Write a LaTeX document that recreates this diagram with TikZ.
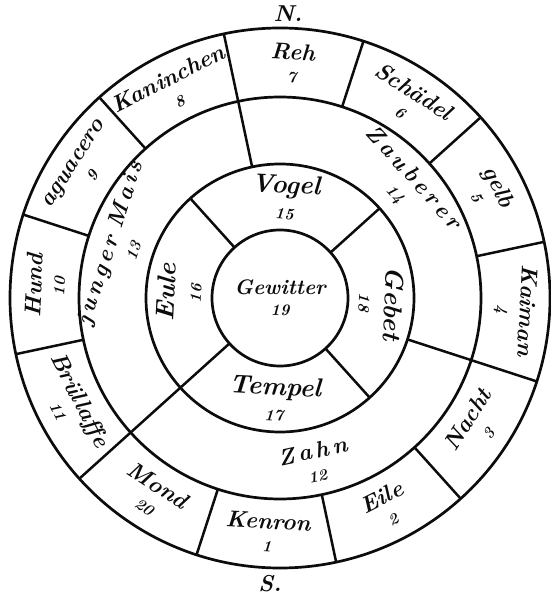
\documentclass[tikz,border=0pt]{standalone}
\usepackage{tikz}
\usetikzlibrary{positioning,calc}
\definecolor{inkblack}{RGB}{12,12,12}
\newcommand{\daynum}[1]{\\[0pt]{\fontsize{16}{16}\selectfont #1}}

\begin{document}
\begin{tikzpicture}[x=1pt,y=1pt,
    font=\fontsize{23}{23}\selectfont\bfseries\itshape,
    ring/.style={draw=inkblack,line width=2.7pt},
    spoke/.style={draw=inkblack,line width=2.5pt},
    sign/.style={inkblack,align=center,inner sep=0pt},
    bigsign/.style={sign,font=\fontsize{26}{26}\selectfont\bfseries\itshape}]
    \useasboundingbox (-280,-301) rectangle (270,298);
    \coordinate (c) at (0,0);
    % rings
    \foreach \r in {270,201,134,68}
        \draw[ring] (c) circle (\r);
    % dividers
    \foreach \a in {12,42,...,342}
        \draw[spoke] (\a:201) -- (\a:270);
    \foreach \a in {102,222,342}
        \draw[spoke] (\a:134) -- (\a:201);
    \foreach \a in {42,132,222,312}
        \draw[spoke] (\a:68) -- (\a:134);
    % outer ring
    \node[sign,rotate=-3] (reh) at (87:235) {Reh\daynum{7}};
    \node[sign,rotate=-33] (schaedel) at (57:235) {Schädel\daynum{6}};
    \node[sign,rotate=-63] (gelb) at (27:235) {gelb\daynum{5}};
    \node[sign,rotate=-93] (kaiman) at (-3:235) {Kaiman\daynum{4}};
    \node[sign,rotate=57] (nacht) at (-33:235) {Nacht\daynum{3}};
    \node[sign,rotate=27] (eile) at (-63:235) {Eile\daynum{2}};
    \node[sign,rotate=-3] (kenron) at (-93:235) {Kenron\daynum{1}};
    \node[sign,rotate=-33] (mond) at (-123:235) {Mond\daynum{20}};
    \node[sign,rotate=-63] (bruellaffe) at (-153:235) {Brüllaffe\daynum{11}};
    \node[sign,rotate=87] (hund) at (177:235) {Hund\daynum{10}};
    \node[sign,rotate=57] (aguacero) at (147:235) {aguacero\daynum{9}};
    \node[sign,rotate=27] (kaninchen) at (117:235) {Kaninchen\daynum{8}};
    % middle ring
    \node[sign,rotate=72] (mais) at (162:168) {j\,u\,n\,g\,e\,r~M\,a\,i\,s\daynum{13}};
    \node[sign,rotate=-48] (zauberer) at (42:168) {Z\,a\,u\,b\,e\,r\,e\,r\daynum{14}};
    \node[sign,rotate=12] (zahn) at (-78:168) {Z\,a\,h\,n\daynum{12}};
    % inner ring
    \node[bigsign,rotate=-3] (vogel) at (87:101) {Vogel\daynum{15}};
    \node[bigsign,rotate=-93] (gebet) at (-3:101) {Gebet\daynum{18}};
    \node[bigsign,rotate=-3] (tempel) at (-93:101) {Tempel\daynum{17}};
    \node[bigsign,rotate=87] (eule) at (177:101) {Eule\daynum{16}};
    % centre and points
    \node[sign,font=\fontsize{21}{21}\selectfont\bfseries\itshape] (gewitter) at (c) {Gewitter\daynum{19}};
    \node[sign] (nord) at (8,284) {N.};
    \node[sign] (sued) at (-10,-286) {S.};
\end{tikzpicture}
\end{document}
